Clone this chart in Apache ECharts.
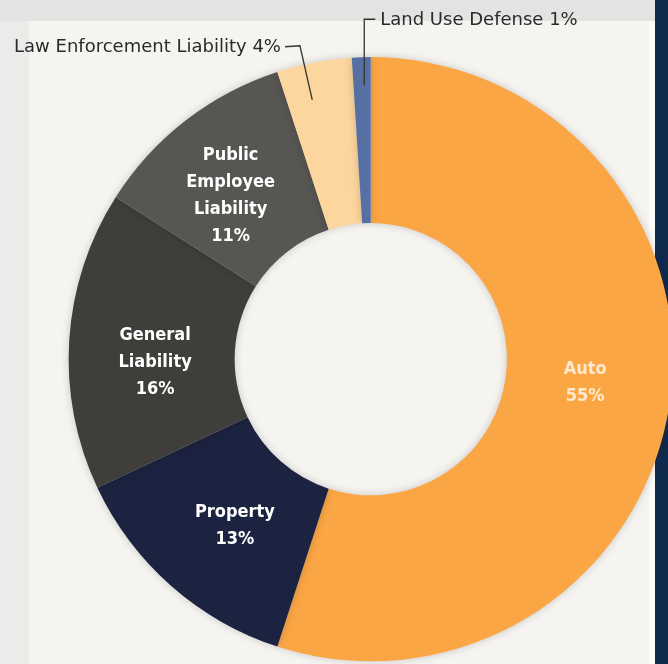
<!DOCTYPE html>
<html>
<head>
<meta charset="utf-8">
<script src="https://cdn.jsdelivr.net/npm/echarts@6/dist/echarts.min.js"></script>
<style>
html,body{margin:0;padding:0;background:#ebebea;}
#c{width:668px;height:664px;}
</style>
</head>
<body>
<div id="c"></div>
<script>
// ---- data ----
const categories = ['Auto', 'Property', 'General\nLiability', 'Public\nEmployee\nLiability', 'Law Enforcement Liability', 'Land Use Defense'];
const values = [55, 13, 16, 11, 4, 1];
const sliceColors = ['#FBA645', '#1C2340', '#403E3B', '#585653', '#FDD69E', '#5670A4'];
const outsideLabels = [false, false, false, false, true, true];

const CX = 0.555, CY = 0.541, R0 = 0.41, R1 = 0.91;
// small nudges of the inside labels (styling only)
const insideNudge = [[-5, -11], [11, 0], [6, 17], [-4, 12]];

const chart = echarts.init(document.getElementById('c'), null, {renderer: 'canvas'});

function geom() {
  const w = chart.getWidth(), h = chart.getHeight();
  const half = Math.min(w, h) / 2;
  return {cx: w * CX, cy: h * CY, r: half * R1, r0: half * R0};
}
function midAngle(i) {
  const total = values.reduce((a, b) => a + b, 0);
  let s = 0;
  for (let k = 0; k < i; k++) s += values[k];
  return (s + values[i] / 2) / total * Math.PI * 2; // clockwise from top
}

// main slices with inside labels
const mainData = categories.map((c, i) => ({
  name: c,
  value: values[i],
  itemStyle: {color: sliceColors[i]},
  label: outsideLabels[i] ? {show: false} : {
    show: true, position: 'inside',
    formatter: '{b}\n{c}%',
    color: i === 0 ? 'rgba(255,244,228,0.85)' : '#ffffff',
    fontSize: 18, fontWeight: 'bold', lineHeight: 27,
    fontFamily: 'DejaVu Sans Condensed'
  },
  labelLine: {show: false}
}));

// same slices, invisible, carrying the outside callouts above the main slices
const calloutData = categories.map((c, i) => ({
  name: c,
  value: values[i],
  itemStyle: {color: 'rgba(0,0,0,0)'},
  label: outsideLabels[i] ? {
    show: true, position: 'outside',
    formatter: '{b} {c}%',
    color: '#2b2b2b', fontSize: 18, fontWeight: 'normal',
    fontFamily: 'DejaVu Sans'
  } : {show: false},
  labelLine: outsideLabels[i] ? {show: true, lineStyle: {color: '#333', width: 1.3}} : {show: false}
}));

function calloutLayout(p) {
  const i = p.dataIndex;
  if (!outsideLabels[i]) return {};
  const g = geom();
  const a = midAngle(i);
  const dx = Math.sin(a), dy = -Math.cos(a);
  const edge = [g.cx + g.r * dx, g.cy + g.r * dy];
  if (i === 4) {
    const end = [edge[0] - 9 - dx * 38, edge[1] - dy * 38];
    const bend = [edge[0] - 11 + dx * 17, edge[1] + dy * 17];
    const tail = [bend[0] - 15, bend[1] + 1];
    return {x: tail[0] - 4, y: tail[1] + 1, align: 'right', verticalAlign: 'middle',
            labelLinePoints: [end, bend, tail]};
  }
  const x = edge[0] + 3;
  const end = [x, edge[1] + 28];
  const bend = [x, edge[1] - 38];
  const tail = [x + 11, edge[1] - 38];
  return {x: tail[0] + 5, y: tail[1] + 1, align: 'left', verticalAlign: 'middle',
          labelLinePoints: [end, bend, tail]};
}

const common = {
  type: 'pie',
  center: [(CX * 100) + '%', (CY * 100) + '%'],
  radius: [(R0 * 100) + '%', (R1 * 100) + '%'],
  startAngle: 90,
  clockwise: true,
  avoidLabelOverlap: false,
  emphasis: {disabled: true}
};

chart.setOption({
  backgroundColor: '#ebebea',
  animation: false,
  graphic: [
    {type: 'rect', shape: {x: 0, y: 0, width: 668, height: 21}, style: {fill: '#e3e3e2'}, z: -10},
    {type: 'rect', shape: {x: 29, y: 21, width: 626, height: 660}, style: {fill: '#f5f4f1'}, z: -10},
    {type: 'rect', shape: {x: 649, y: 21, width: 6, height: 660}, style: {fill: '#fbfbfa'}, z: -10},
    {type: 'rect', shape: {x: 655, y: 0, width: 13, height: 664}, style: {fill: '#102a4e'}, z: -10}
  ],
  series: [
    Object.assign({}, common, {
      z: 2,
      data: mainData,
      itemStyle: {borderWidth: 0, shadowBlur: 8, shadowColor: 'rgba(0,0,0,0.18)'},
      labelLayout: function (p) {
        const n = insideNudge[p.dataIndex] || [0, 0];
        return {dx: n[0], dy: n[1]};
      }
    }),
    Object.assign({}, common, {
      z: 5,
      silent: true,
      data: calloutData,
      itemStyle: {borderWidth: 0},
      labelLayout: calloutLayout
    })
  ]
});
</script>
</body>
</html>
